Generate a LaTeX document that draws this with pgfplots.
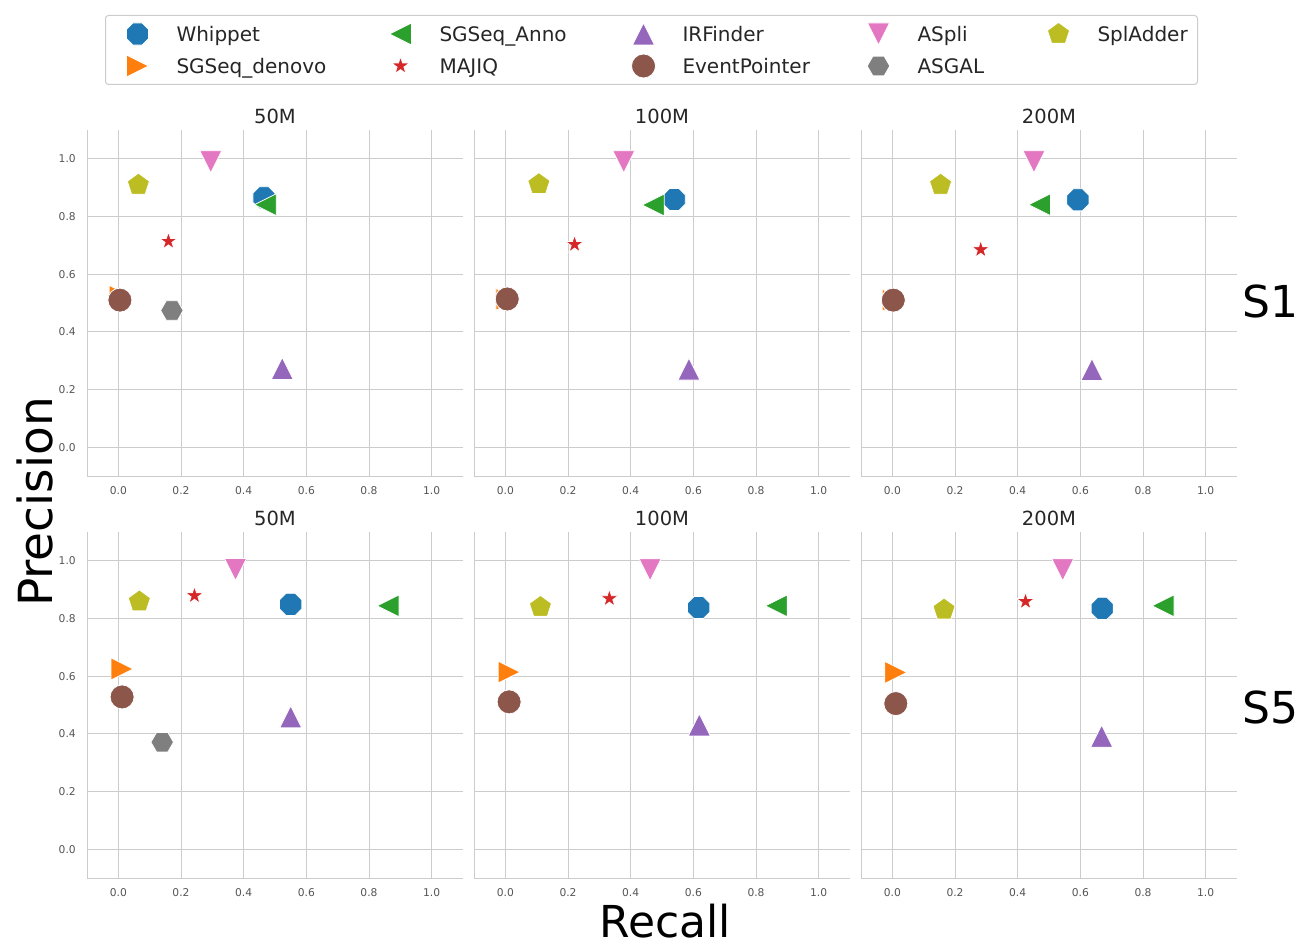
\documentclass[border=0pt]{standalone}
\usepackage{pgfplots}
\pgfplotsset{compat=1.18}
\usepackage{fontspec}
\setmainfont{DejaVu Sans}

\definecolor{cblue}{HTML}{1F77B4}
\definecolor{corange}{HTML}{FF7F0E}
\definecolor{cgreen}{HTML}{2CA02C}
\definecolor{cred}{HTML}{D62728}
\definecolor{cpurple}{HTML}{9467BD}
\definecolor{cbrown}{HTML}{8C564B}
\definecolor{cpink}{HTML}{E377C2}
\definecolor{cgray}{HTML}{7F7F7F}
\definecolor{colive}{HTML}{BCBD22}
\definecolor{gridc}{HTML}{CCCCCC}
\definecolor{tickc}{HTML}{555555}
\definecolor{titlec}{HTML}{262626}

% matplotlib-like markers
\pgfdeclareplotmark{mtriu}{%
  \pgfpathmoveto{\pgfqpoint{0pt}{\pgfplotmarksize}}%
  \pgfpathlineto{\pgfqpoint{-\pgfplotmarksize}{-\pgfplotmarksize}}%
  \pgfpathlineto{\pgfqpoint{\pgfplotmarksize}{-\pgfplotmarksize}}%
  \pgfpathclose\pgfusepathqfillstroke}
\pgfdeclareplotmark{mtrid}{%
  \pgfpathmoveto{\pgfqpoint{0pt}{-\pgfplotmarksize}}%
  \pgfpathlineto{\pgfqpoint{-\pgfplotmarksize}{\pgfplotmarksize}}%
  \pgfpathlineto{\pgfqpoint{\pgfplotmarksize}{\pgfplotmarksize}}%
  \pgfpathclose\pgfusepathqfillstroke}
\pgfdeclareplotmark{mtril}{%
  \pgfpathmoveto{\pgfqpoint{-\pgfplotmarksize}{0pt}}%
  \pgfpathlineto{\pgfqpoint{\pgfplotmarksize}{\pgfplotmarksize}}%
  \pgfpathlineto{\pgfqpoint{\pgfplotmarksize}{-\pgfplotmarksize}}%
  \pgfpathclose\pgfusepathqfillstroke}
\pgfdeclareplotmark{mtrir}{%
  \pgfpathmoveto{\pgfqpoint{\pgfplotmarksize}{0pt}}%
  \pgfpathlineto{\pgfqpoint{-\pgfplotmarksize}{\pgfplotmarksize}}%
  \pgfpathlineto{\pgfqpoint{-\pgfplotmarksize}{-\pgfplotmarksize}}%
  \pgfpathclose\pgfusepathqfillstroke}
\pgfdeclareplotmark{moct}{%
  \pgfpathmoveto{\pgfpointpolar{22.5}{\pgfplotmarksize}}%
  \pgfpathlineto{\pgfpointpolar{67.5}{\pgfplotmarksize}}%
  \pgfpathlineto{\pgfpointpolar{112.5}{\pgfplotmarksize}}%
  \pgfpathlineto{\pgfpointpolar{157.5}{\pgfplotmarksize}}%
  \pgfpathlineto{\pgfpointpolar{202.5}{\pgfplotmarksize}}%
  \pgfpathlineto{\pgfpointpolar{247.5}{\pgfplotmarksize}}%
  \pgfpathlineto{\pgfpointpolar{292.5}{\pgfplotmarksize}}%
  \pgfpathlineto{\pgfpointpolar{337.5}{\pgfplotmarksize}}%
  \pgfpathclose\pgfusepathqfillstroke}
\pgfdeclareplotmark{mhex}{%
  \pgfpathmoveto{\pgfpointpolar{0}{\pgfplotmarksize}}%
  \pgfpathlineto{\pgfpointpolar{60}{\pgfplotmarksize}}%
  \pgfpathlineto{\pgfpointpolar{120}{\pgfplotmarksize}}%
  \pgfpathlineto{\pgfpointpolar{180}{\pgfplotmarksize}}%
  \pgfpathlineto{\pgfpointpolar{240}{\pgfplotmarksize}}%
  \pgfpathlineto{\pgfpointpolar{300}{\pgfplotmarksize}}%
  \pgfpathclose\pgfusepathqfillstroke}
\pgfdeclareplotmark{mpent}{%
  \pgfpathmoveto{\pgfpointpolar{90}{\pgfplotmarksize}}%
  \pgfpathlineto{\pgfpointpolar{162}{\pgfplotmarksize}}%
  \pgfpathlineto{\pgfpointpolar{234}{\pgfplotmarksize}}%
  \pgfpathlineto{\pgfpointpolar{306}{\pgfplotmarksize}}%
  \pgfpathlineto{\pgfpointpolar{18}{\pgfplotmarksize}}%
  \pgfpathclose\pgfusepathqfillstroke}
\pgfdeclareplotmark{mstar}{%
  \pgfpathmoveto{\pgfpointpolar{90}{\pgfplotmarksize}}%
  \pgfpathlineto{\pgfpointpolar{126}{0.382\pgfplotmarksize}}%
  \pgfpathlineto{\pgfpointpolar{162}{\pgfplotmarksize}}%
  \pgfpathlineto{\pgfpointpolar{198}{0.382\pgfplotmarksize}}%
  \pgfpathlineto{\pgfpointpolar{234}{\pgfplotmarksize}}%
  \pgfpathlineto{\pgfpointpolar{270}{0.382\pgfplotmarksize}}%
  \pgfpathlineto{\pgfpointpolar{306}{\pgfplotmarksize}}%
  \pgfpathlineto{\pgfpointpolar{342}{0.382\pgfplotmarksize}}%
  \pgfpathlineto{\pgfpointpolar{18}{\pgfplotmarksize}}%
  \pgfpathlineto{\pgfpointpolar{54}{0.382\pgfplotmarksize}}%
  \pgfpathclose\pgfusepathqfillstroke}

\newcommand{\tickfont}{\fontsize{5.35pt}{6.4pt}\selectfont}
\newcommand{\titlefont}{\fontsize{9.75pt}{11.7pt}\selectfont}
\newcommand{\legfont}{\fontsize{10pt}{12pt}\selectfont}
\newcommand{\bigfont}{\fontsize{22pt}{26pt}\selectfont}
\newcommand{\bigfontP}{\fontsize{23.5pt}{28pt}\selectfont}

\pgfplotsset{
  every axis title/.style={at={(0.5,1)}, anchor=base, yshift=3.5pt, inner sep=0pt, font=\titlefont, text=titlec},
  panel/.style={
    scale only axis, width=188pt, height=173pt,
    xmin=-0.1, xmax=1.1, ymin=-0.1, ymax=1.1,
    xtick={0,0.2,0.4,0.6,0.8,1}, ytick={0,0.2,0.4,0.6,0.8,1},
    grid=major, grid style={draw=gridc, line width=0.5pt},
    axis x line*=bottom, axis y line*=left,
    axis line style={draw=gridc, line width=0.5pt, -},
    major tick length=0pt,
    tick label style={font=\tickfont, text=tickc},
    xticklabel style={yshift=-1.6pt, /pgf/number format/fixed, /pgf/number format/fixed zerofill, /pgf/number format/precision=1},
    yticklabel style={xshift=-2.1pt, /pgf/number format/fixed, /pgf/number format/fixed zerofill, /pgf/number format/precision=1},
    /pgf/number format/assume math mode=true,
    anchor=north west,
  },
  noy/.style={yticklabels={}},
  mwhip/.style={only marks, mark=moct, mark size=6pt, mark options={fill=cblue, draw=white, line width=0.4pt, solid}},
  mdeno/.style={only marks, mark=mtrir, mark size=5.5pt, mark options={fill=corange, draw=white, line width=0.4pt, solid}},
  manno/.style={only marks, mark=mtril, mark size=5.5pt, mark options={fill=cgreen, draw=white, line width=0.4pt, solid}},
  mmaj/.style={only marks, mark=mstar, mark size=4.7pt, mark options={fill=cred, draw=white, line width=0.4pt, solid}},
  mirf/.style={only marks, mark=mtriu, mark size=5.5pt, mark options={fill=cpurple, draw=white, line width=0.4pt, solid}},
  mevp/.style={only marks, mark=*, mark size=6pt, mark options={fill=cbrown, draw=white, line width=0.4pt, solid}},
  masp/.style={only marks, mark=mtrid, mark size=5.5pt, mark options={fill=cpink, draw=white, line width=0.4pt, solid}},
  masg/.style={only marks, mark=mhex, mark size=5.65pt, mark options={fill=cgray, draw=white, line width=0.4pt, solid}},
  mspl/.style={only marks, mark=mpent, mark size=5.8pt, mark options={fill=colive, draw=white, line width=0.4pt, solid}},
}

\begin{document}
\begin{tikzpicture}
\path[use as bounding box] (0pt,0pt) rectangle (652.5pt,-472pt);

% ---------------- S1, 50M ----------------
\begin{axis}[panel, at={(43.5pt,-65pt)}, title={50M},
  legend columns=5,
  legend style={at={(0.0479,1.3324)}, anchor=north west, draw=gridc, line width=0.5pt,
    rounded corners=1.5pt, fill=white, inner xsep=9pt, inner ysep=1.25pt,
    font=\legfont, text=titlec, nodes={inner sep=0pt, anchor=base west},
    column sep=0pt, row sep=0pt},
  legend image code/.code={\path[draw=none, fill=none] (-7pt,-4.4pt) rectangle (19.5pt,11.6pt); \draw[#1] plot coordinates {(0pt,3.6pt)};},
]
\addplot[mwhip, forget plot] coordinates {(0.465,0.865)};
\addplot[mdeno, forget plot] coordinates {(0.006,0.523)};
\addplot[manno, forget plot] coordinates {(0.469,0.841)};
\addplot[mmaj, forget plot] coordinates {(0.160,0.714)};
\addplot[mirf, forget plot] coordinates {(0.523,0.273)};
\addplot[mevp, forget plot] coordinates {(0.005,0.510)};
\addplot[masp, forget plot] coordinates {(0.295,0.990)};
\addplot[masg, forget plot] coordinates {(0.171,0.474)};
\addplot[mspl, forget plot] coordinates {(0.064,0.910)};
\addlegendimage{mwhip}\addlegendentry{\makebox[105pt][l]{Whippet}}
\addlegendimage{manno}\addlegendentry{\makebox[95pt][l]{SGSeq\_Anno}}
\addlegendimage{mirf}\addlegendentry{\makebox[91pt][l]{IRFinder}}
\addlegendimage{masp}\addlegendentry{\makebox[63.5pt][l]{ASpli}}
\addlegendimage{mspl}\addlegendentry{\makebox[41pt][l]{SplAdder}}
\addlegendimage{mdeno}\addlegendentry{\makebox[105pt][l]{SGSeq\_denovo}}
\addlegendimage{mmaj}\addlegendentry{\makebox[95pt][l]{MAJIQ}}
\addlegendimage{mevp}\addlegendentry{\makebox[91pt][l]{EventPointer}}
\addlegendimage{masg}\addlegendentry{\makebox[63.5pt][l]{ASGAL}}
\end{axis}

% ---------------- S1, 100M ----------------
\begin{axis}[panel, noy, at={(237pt,-65pt)}, title={100M}]
\addplot[mwhip] coordinates {(0.539,0.859)};
\addplot[mdeno] coordinates {(0.005,0.513)};
\addplot[manno] coordinates {(0.472,0.840)};
\addplot[mmaj] coordinates {(0.221,0.703)};
\addplot[mirf] coordinates {(0.586,0.271)};
\addplot[mevp] coordinates {(0.006,0.514)};
\addplot[masp] coordinates {(0.378,0.990)};
\addplot[mspl] coordinates {(0.107,0.912)};
\end{axis}

% ---------------- S1, 200M ----------------
\begin{axis}[panel, noy, at={(430.5pt,-65pt)}, title={200M}]
\addplot[mwhip] coordinates {(0.592,0.858)};
\addplot[mdeno] coordinates {(0.003,0.510)};
\addplot[manno] coordinates {(0.470,0.841)};
\addplot[mmaj] coordinates {(0.282,0.685)};
\addplot[mirf] coordinates {(0.637,0.269)};
\addplot[mevp] coordinates {(0.003,0.510)};
\addplot[masp] coordinates {(0.452,0.990)};
\addplot[mspl] coordinates {(0.154,0.910)};
\end{axis}

% ---------------- S5, 50M ----------------
\begin{axis}[panel, at={(43.5pt,-266pt)}, title={50M}]
\addplot[mwhip] coordinates {(0.550,0.849)};
\addplot[mdeno] coordinates {(0.012,0.625)};
\addplot[manno] coordinates {(0.861,0.844)};
\addplot[mmaj] coordinates {(0.243,0.879)};
\addplot[mirf] coordinates {(0.550,0.459)};
\addplot[mevp] coordinates {(0.012,0.528)};
\addplot[masp] coordinates {(0.374,0.970)};
\addplot[masg] coordinates {(0.140,0.371)};
\addplot[mspl] coordinates {(0.067,0.859)};
\end{axis}

% ---------------- S5, 100M ----------------
\begin{axis}[panel, noy, at={(237pt,-266pt)}, title={100M}]
\addplot[mwhip] coordinates {(0.617,0.838)};
\addplot[mdeno] coordinates {(0.012,0.614)};
\addplot[manno] coordinates {(0.865,0.844)};
\addplot[mmaj] coordinates {(0.332,0.869)};
\addplot[mirf] coordinates {(0.619,0.431)};
\addplot[mevp] coordinates {(0.012,0.511)};
\addplot[masp] coordinates {(0.462,0.969)};
\addplot[mspl] coordinates {(0.112,0.840)};
\end{axis}

% ---------------- S5, 200M ----------------
\begin{axis}[panel, noy, at={(430.5pt,-266pt)}, title={200M}]
\addplot[mwhip] coordinates {(0.670,0.835)};
\addplot[mdeno] coordinates {(0.011,0.613)};
\addplot[manno] coordinates {(0.864,0.844)};
\addplot[mmaj] coordinates {(0.425,0.859)};
\addplot[mirf] coordinates {(0.668,0.392)};
\addplot[mevp] coordinates {(0.011,0.505)};
\addplot[masp] coordinates {(0.544,0.969)};
\addplot[mspl] coordinates {(0.165,0.831)};
\end{axis}

\node[rotate=90, anchor=base, font=\bigfontP, inner sep=0pt] at (26pt,-251pt) {Precision};
\node[anchor=base, font=\bigfont, inner sep=0pt] at (332.5pt,-468.5pt) {Recall};
\node[anchor=base west, font=\bigfont, inner sep=0pt] at (621pt,-158.5pt) {S1};
\node[anchor=base west, font=\bigfont, inner sep=0pt] at (621pt,-361.5pt) {S5};
\end{tikzpicture}
\end{document}
